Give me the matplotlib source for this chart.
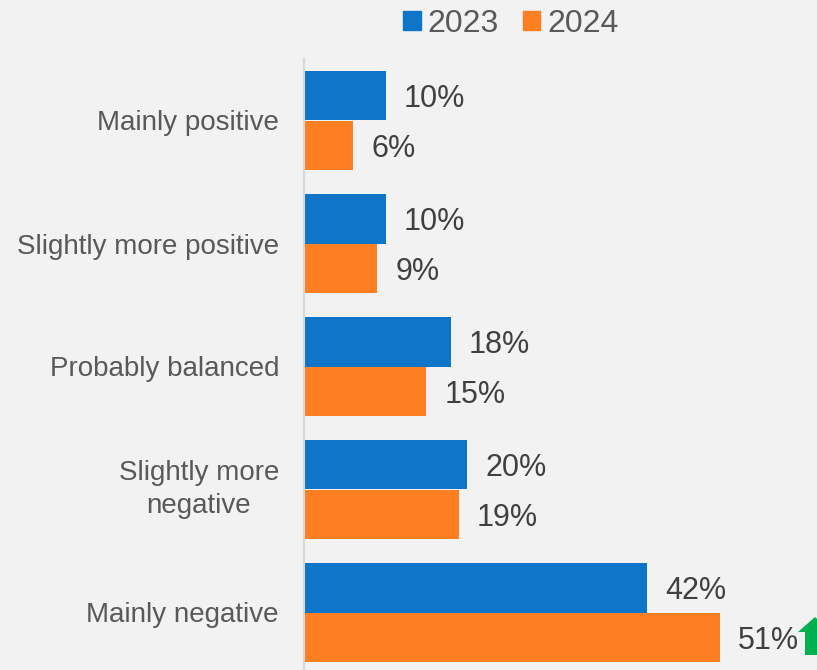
import matplotlib
matplotlib.use("Agg")
import matplotlib.pyplot as plt
from matplotlib.patches import Patch, Polygon
import numpy as np

# chart data
categories = ["Mainly positive", "Slightly more positive", "Probably balanced",
              "Slightly more\nnegative", "Mainly negative"]
years = ["2023", "2024"]
values_2023 = [10, 10, 18, 20, 42]
values_2024 = [6, 9, 15, 19, 51]

BLUE = "#0e75c9"
ORANGE = "#fe7f22"
GREEN = "#00b050"
TEXT = "#595959"
BG = "#f2f2f2"

plt.rcParams["font.family"] = ["Liberation Sans", "DejaVu Sans"]

W, H = 817, 670
fig = plt.figure(figsize=(W / 100, H / 100), dpi=100, facecolor=BG)

# axes placed in pixel terms: left spine at x=304, top at y=59
ax_left, ax_top, ax_bottom = 304, 59, 674
px_per_pct = 8.16
xmax = 60
ax = fig.add_axes([ax_left / W, 1 - ax_bottom / H,
                   xmax * px_per_pct / W, (ax_bottom - ax_top) / H])
ax.set_facecolor(BG)

y = np.arange(len(categories))
bh = 0.4
ax.barh(y - bh / 2, values_2023, height=bh, color=BLUE, label=years[0])
ax.barh(y + bh / 2, values_2024, height=bh, color=ORANGE, label=years[1])

for yi, v in zip(y, values_2023):
    ax.annotate(f"{v}%", (v, yi - bh / 2), xytext=(13, 0), textcoords="offset points",
                va="center_baseline", ha="left", fontsize=22, color="#404040")
for yi, v in zip(y, values_2024):
    ax.annotate(f"{v}%", (v, yi + bh / 2), xytext=(13, 0), textcoords="offset points",
                va="center_baseline", ha="left", fontsize=22, color="#404040")

ax.set_xlim(0, xmax)
ax.set_ylim(len(categories) - 0.5, -0.5)
ax.set_yticks(y)
ax.set_yticklabels(categories, fontsize=20, color=TEXT, multialignment="center",
                   linespacing=1.32)
# two-line label sits better centred on its box
for lbl in ax.get_yticklabels():
    if "\n" in lbl.get_text():
        lbl.set_va("center")
ax.tick_params(axis="y", length=0, pad=18)
ax.set_xticks([])
for s in ["top", "right", "bottom"]:
    ax.spines[s].set_visible(False)
ax.spines["left"].set_color("#d9d9d9")
ax.spines["left"].set_linewidth(1.5)

# legend at top
handles = [Patch(color=BLUE, label=years[0]), Patch(color=ORANGE, label=years[1])]
fig.legend(handles=handles, loc="center", bbox_to_anchor=(511 / W, 1 - 24 / H),
           ncol=2, frameon=False, fontsize=23, labelcolor=TEXT,
           handlelength=0.54, handleheight=0.54, handletextpad=0.22,
           columnspacing=0.75, borderpad=0)

# green "up" arrow next to the 51% label (decoration, in pixel coords)
def px(xp, yp):
    return (xp / W, 1 - yp / H)

arrow_pts = [px(805, 655), px(805, 632), px(798, 632), px(815, 617),
             px(832, 632), px(825, 632), px(825, 655)]
fig.patches.append(Polygon(arrow_pts, closed=True, transform=fig.transFigure,
                           facecolor=GREEN, edgecolor="none"))

fig.savefig("out.png", dpi=100, facecolor=BG)
